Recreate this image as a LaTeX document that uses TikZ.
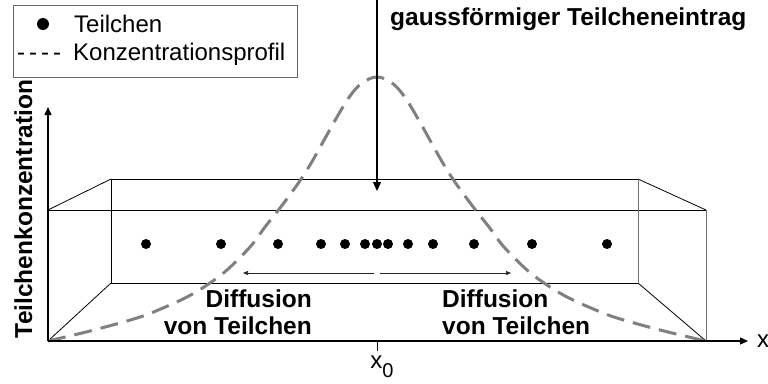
\documentclass[tikz,border=0pt]{standalone}
\usepackage{fontspec}
\setmainfont{Liberation Sans}
\usetikzlibrary{arrows.meta}
\begin{document}
\begin{tikzpicture}[x=1pt,y=-1pt,
  boxline/.style={black, line width=0.8pt},
  boxgray/.style={black!55, line width=0.8pt},
  axis/.style={black, line width=1.3pt, -{Triangle[length=8pt,width=7pt]}},
  particle/.style={circle, fill=black, inner sep=0pt, minimum size=10pt},
  profile/.style={black!50, line width=3pt, dash pattern=on 18pt off 9pt},
  difarrow/.style={black!85, line width=0.7pt, -{Triangle[length=5pt,width=4pt]}},
  lbl/.style={font=\fontsize{24.5}{27}\selectfont\bfseries, inner sep=0pt},
  txt/.style={font=\fontsize{24}{27}\selectfont, inner sep=0pt},
]
\useasboundingbox (0,0) rectangle (768,383);

% legend
\node[draw=black!60, line width=0.8pt, minimum width=284pt, minimum height=72pt, anchor=north west, inner sep=0pt] (legend) at (13,5) {};
\node[particle, minimum size=12pt] (legdot) at (43,24) {};
\node[txt, anchor=base west] (legtxt1) at (74,32) {Teilchen};
\node[txt, anchor=base west] (legdash) at (17,60) {-\kern4pt-\kern4pt-\kern4pt-};
\node[txt, anchor=base west] (legtxt2) at (73,60) {Konzentrationsprofil};

% coordinates of the box
\coordinate (O) at (48,341);
\coordinate (FTL) at (48,210);
\coordinate (FTR) at (706,210);
\coordinate (FBR) at (706,341);
\coordinate (BTL) at (111,179);
\coordinate (BTR) at (638,179);
\coordinate (BBL) at (111,283);
\coordinate (BBR) at (638,283);
\coordinate (ytip) at (48,107);
\coordinate (xtip) at (748,341);

% box
\draw[boxline] (FTL) -- (FTR);
\draw[boxline] (BTL) -- (BTR);
\draw[boxline] (BBL) -- (BBR);
\draw[boxline] (BTL) -- (BBL);
\draw[boxline] (FTL) -- (BTL);
\draw[boxline] (O) -- (BBL);
\draw[boxline] (FTR) -- (BTR);
\draw[boxline] (FBR) -- (BBR);
\draw[boxgray] (BTR) -- (BBR);
\draw[boxgray] (FTR) -- (FBR);

% concentration profile
\draw[profile] plot[smooth, tension=0.6] coordinates {
 (48,341) (90,331) (137,318) (163,308) (187,297) (207,285) (227,270) (250,247)
 (265,227) (280,208) (297,185) (310,165) (323,142) (337,117) (350,96) (362,83) (377,77)
 (392,83) (404,96) (417,117) (431,142) (444,165) (457,185) (474,208) (489,227)
 (504,247) (527,270) (547,285) (567,297) (591,308) (617,318) (664,331) (706,341)};

% axes
\draw[axis] (O) -- (ytip);
\draw[axis] (O) -- (xtip);
\coordinate (x0) at (377,341);
\coordinate (x0b) at (377,351);
\draw[black, line width=0.8pt] (x0) -- (x0b);
\node[txt, anchor=base] (x0lab) at (382,368) {x\raisebox{-9pt}{\fontsize{20}{20}\selectfont 0}};
\node[txt, anchor=base west] (xlab) at (757,347) {x};
\node[lbl, rotate=90, anchor=base] (ylab) at (32,209) {Teilchenkonzentration};

% particles
\foreach \i/\px in {1/146,2/221,3/278,4/321,5/345,6/365,7/377,8/388,9/408,10/433,11/474,12/532,13/607}{
  \node[particle] (p\i) at (\px,244) {};
}

% diffusion arrows
\coordinate (dl0) at (374,273);
\coordinate (dl1) at (243,273);
\coordinate (dr0) at (380,273);
\coordinate (dr1) at (511,273);
\draw[difarrow] (dl0) -- (dl1);
\draw[difarrow] (dr0) -- (dr1);
\node[lbl, align=right, anchor=north east] (diffl) at (312,289.5) {Diffusion\\von Teilchen};
\node[lbl, align=left, anchor=north west] (diffr) at (442,289.5) {Diffusion\\von Teilchen};

% injection arrow
\coordinate (intop) at (377,0);
\coordinate (inbot) at (377,191);
\draw[black, line width=1.3pt, -{Triangle[length=9pt,width=8pt]}] (intop) -- (inbot);
\node[lbl, anchor=base west] (intxt) at (390,25) {gaussförmiger Teilcheneintrag};
\end{tikzpicture}
\end{document}
